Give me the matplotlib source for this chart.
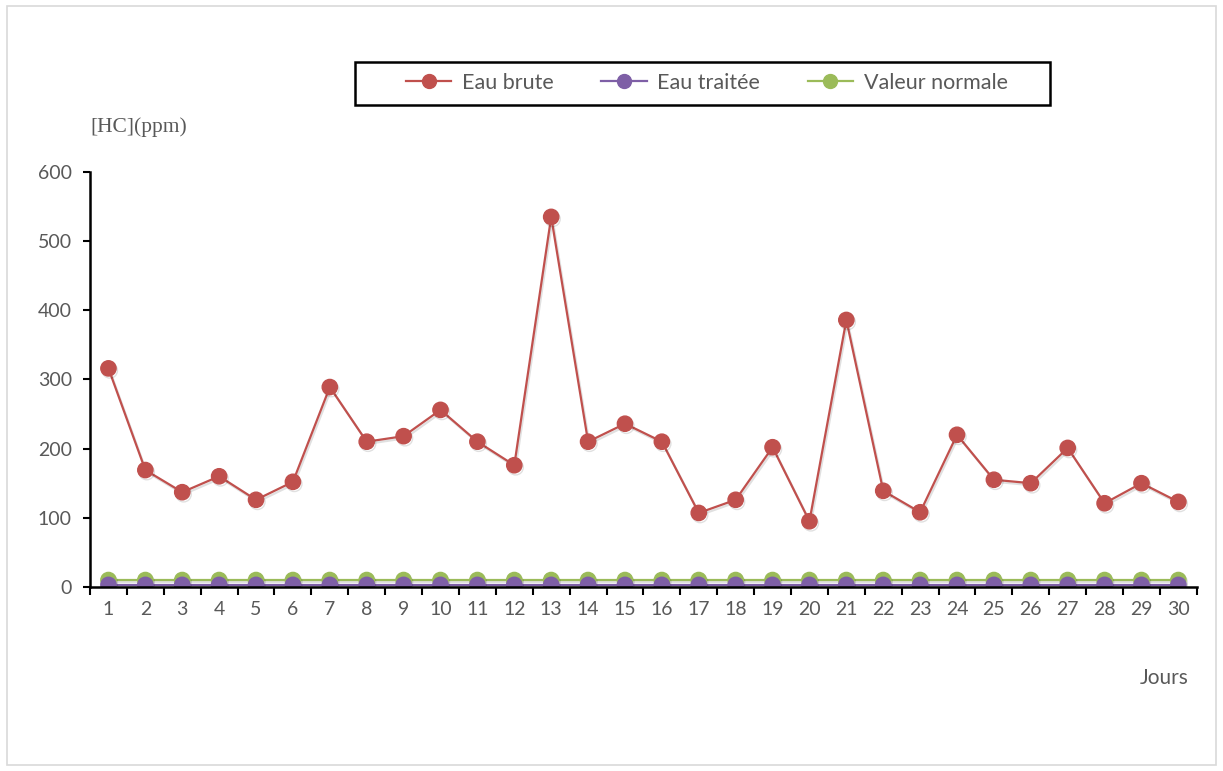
import matplotlib
matplotlib.use("Agg")
import matplotlib.pyplot as plt
import matplotlib.patheffects as pe
from matplotlib.patches import Rectangle

# data
jours = list(range(1, 31))
eau_brute = [316, 169, 137, 160, 126, 152, 289, 210, 218, 256,
             210, 176, 535, 210, 236, 210, 107, 126, 202, 95,
             386, 139, 108, 220, 155, 150, 201, 121, 150, 123]
eau_traitee = [3] * 30
valeur_normale = [10] * 30

series = [
    ("Eau brute", eau_brute, "#C0504D"),
    ("Eau traitée", eau_traitee, "#7E5FA6"),
    ("Valeur normale", valeur_normale, "#9BBB59"),
]

plt.rcParams['font.family'] = ['Lato', 'DejaVu Sans']
grey = "#595959"

fig = plt.figure(figsize=(12.23, 7.71), dpi=100)
# outer chart border
fig.patches.append(Rectangle((0.006, 0.008), 0.988, 0.984, transform=fig.transFigure,
                             fill=False, edgecolor="#D9D9D9", linewidth=1.2))
# legend box (drawn by hand, wider padding than the legend frame allows)
fig.patches.append(Rectangle((0.2903, 0.8638), 0.5683, 0.0558, transform=fig.transFigure,
                             fill=False, edgecolor="black", linewidth=1.8))

ax = fig.add_axes([0.0736, 0.2387, 0.905, 0.5383])
shadow = [pe.SimpleLineShadow(offset=(1, -1.5), alpha=0.12), pe.Normal()]
handles = []
for name, vals, col in series[::-1]:
    h, = ax.plot(jours, vals, color=col, lw=1.6, marker="o", markersize=11,
                 markeredgecolor=col, label=name, path_effects=shadow)
    handles.append(h)

ax.set_xlim(0.5, 30.5)
ax.set_ylim(0, 600)
ax.set_yticks(range(0, 601, 100))
ax.set_xticks(jours)
ax.set_xticks([j + 0.5 for j in range(0, 31)], minor=True)
ax.tick_params(axis="x", which="major", length=0, pad=10, labelsize=14, labelcolor=grey)
ax.tick_params(axis="x", which="minor", length=6, width=1.5, direction="out")
ax.tick_params(axis="y", length=5, width=1.5, pad=8, labelsize=14, labelcolor=grey)
for s in ["top", "right"]:
    ax.spines[s].set_visible(False)
for s in ["left", "bottom"]:
    ax.spines[s].set_linewidth(1.8)
    ax.spines[s].set_color("black")

fig.text(0.074, 0.835, "[HC](ppm)", family="Liberation Serif", fontsize=15.5,
         color=grey, ha="left", va="center")
fig.text(0.972, 0.12, "Jours", fontsize=15, color=grey, ha="right", va="center")

leg = fig.legend(handles[::-1], [s[0] for s in series], loc="center",
                 bbox_to_anchor=(0.578, 0.8925), ncol=3, frameon=False,
                 fontsize=15.5, labelcolor=grey, handlelength=2.1, handletextpad=0.5,
                 columnspacing=2.2, borderpad=0, borderaxespad=0)
for lh in leg.legend_handles:
    lh.set_markersize(10)
    lh.set_path_effects([])

fig.savefig("out.png", dpi=100)
